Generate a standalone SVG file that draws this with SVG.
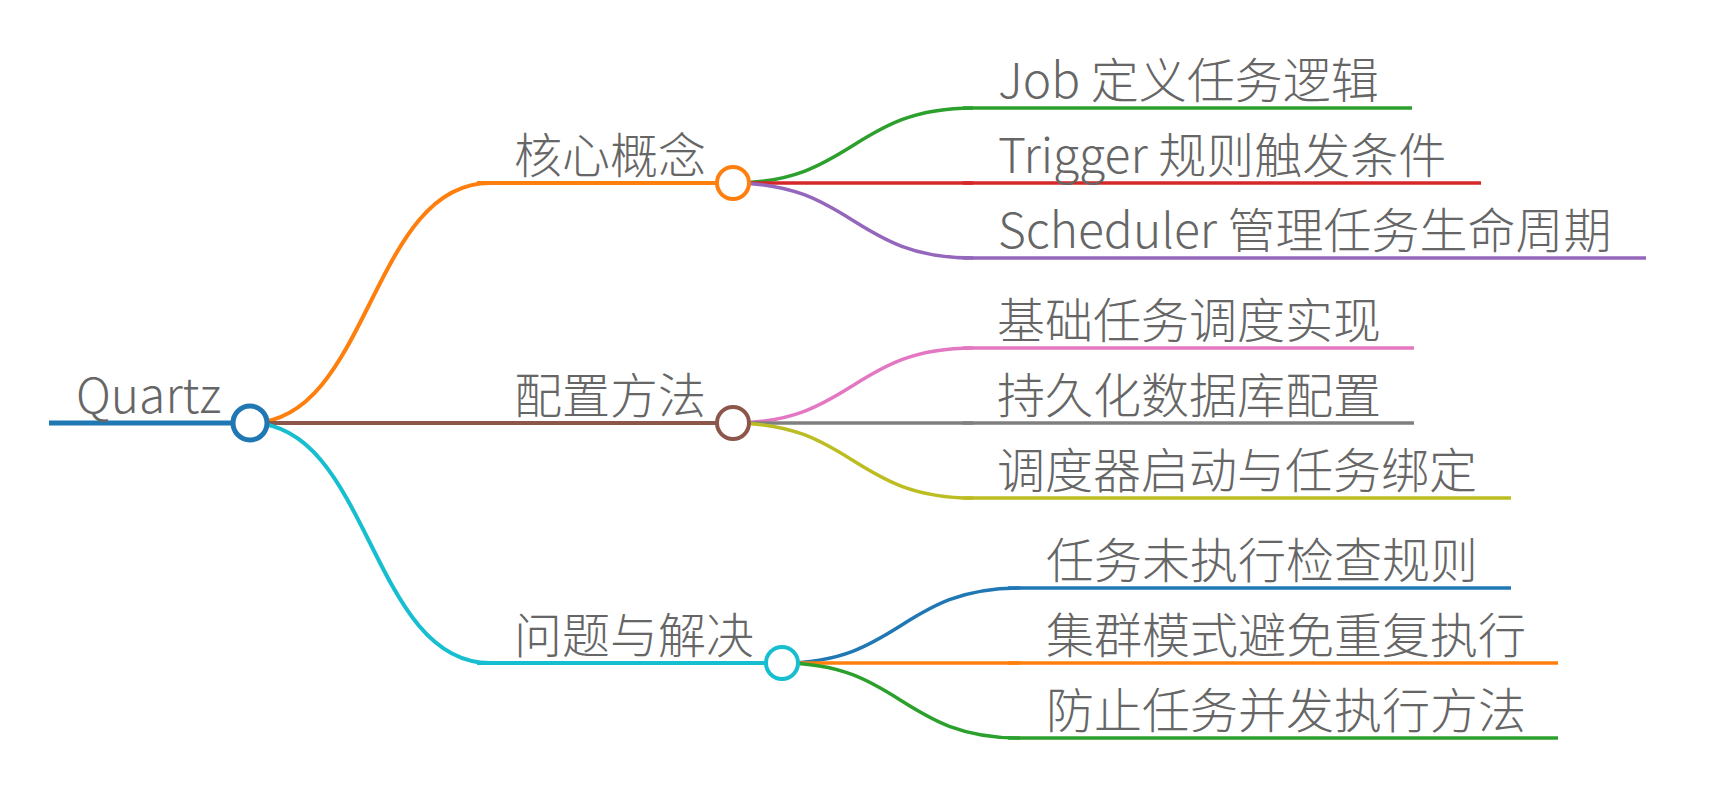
<svg xmlns="http://www.w3.org/2000/svg" width="1712" height="810" viewBox="0 0 1712 810">
<style>
text{font-family:"Noto Sans CJK SC","Noto Sans",sans-serif;font-size:48px;font-weight:300;fill:#666}
.l{fill:none;stroke-linecap:butt}
.c{fill:#fff}
.d0{stroke-width:5}
.d1{stroke-width:4}
.d2{stroke-width:3.5}
</style>
<rect width="1712" height="810" fill="#fff"/>
<g id="connectors" class="l">
<path class="d1" stroke="#ff7f0e" d="M250,423 C370,423 370,183 490,183"/>
<path class="d1" stroke="#8c564b" d="M250,423 L490,423"/>
<path class="d1" stroke="#17becf" d="M250,423 C370,423 370,663 490,663"/>
<path class="d2" stroke="#2ca02c" d="M733,183 C853,183 853,108 973,108"/>
<path class="d2" stroke="#d62728" d="M733,183 L973,183"/>
<path class="d2" stroke="#9467bd" d="M733,183 C853,183 853,258 973,258"/>
<path class="d2" stroke="#e377c2" d="M733,423 C853,423 853,348 973,348"/>
<path class="d2" stroke="#7f7f7f" d="M733,423 L973,423"/>
<path class="d2" stroke="#bcbd22" d="M733,423 C853,423 853,498 973,498"/>
<path class="d2" stroke="#1f77b4" d="M782,663 C901,663 901,588 1020,588"/>
<path class="d2" stroke="#ff7f0e" d="M782,663 L1020,663"/>
<path class="d2" stroke="#2ca02c" d="M782,663 C901,663 901,738 1020,738"/>
</g>
<g id="n-root">
<line class="l d0" stroke="#1f77b4" x1="49" y1="423" x2="234" y2="423"/>
<circle class="c d0" stroke="#1f77b4" cx="250" cy="423" r="17"/>
<text x="76" y="413">Quartz</text>
</g>
<g id="n-core">
<line class="l d1" stroke="#ff7f0e" x1="477" y1="183" x2="718" y2="183"/>
<circle class="c d1" stroke="#ff7f0e" cx="733" cy="183" r="16"/>
<text x="514" y="173">核心概念</text>
</g>
<g id="n-config">
<line class="l d1" stroke="#8c564b" x1="477" y1="423" x2="718" y2="423"/>
<circle class="c d1" stroke="#8c564b" cx="733" cy="423" r="16"/>
<text x="514" y="413">配置方法</text>
</g>
<g id="n-problem">
<line class="l d1" stroke="#17becf" x1="477" y1="663" x2="766" y2="663"/>
<circle class="c d1" stroke="#17becf" cx="782" cy="663" r="16"/>
<text x="514" y="653">问题与解决</text>
</g>
<g id="n-job">
<line class="l d2" stroke="#2ca02c" x1="963" y1="108" x2="1412" y2="108"/>
<text x="998" y="98">Job 定义任务逻辑</text>
</g>
<g id="n-trigger">
<line class="l d2" stroke="#d62728" x1="963" y1="183" x2="1481" y2="183"/>
<text x="998" y="173">Trigger 规则触发条件</text>
</g>
<g id="n-scheduler">
<line class="l d2" stroke="#9467bd" x1="963" y1="258" x2="1646" y2="258"/>
<text x="998" y="248">Scheduler 管理任务生命周期</text>
</g>
<g id="n-basic">
<line class="l d2" stroke="#e377c2" x1="963" y1="348" x2="1414" y2="348"/>
<text x="997" y="338">基础任务调度实现</text>
</g>
<g id="n-persist">
<line class="l d2" stroke="#7f7f7f" x1="963" y1="423" x2="1414" y2="423"/>
<text x="997" y="413">持久化数据库配置</text>
</g>
<g id="n-start">
<line class="l d2" stroke="#bcbd22" x1="963" y1="498" x2="1511" y2="498"/>
<text x="997" y="488">调度器启动与任务绑定</text>
</g>
<g id="n-misfire">
<line class="l d2" stroke="#1f77b4" x1="1008" y1="588" x2="1511" y2="588"/>
<text x="1046" y="578">任务未执行检查规则</text>
</g>
<g id="n-cluster">
<line class="l d2" stroke="#ff7f0e" x1="1008" y1="663" x2="1558" y2="663"/>
<text x="1046" y="653">集群模式避免重复执行</text>
</g>
<g id="n-concurrent">
<line class="l d2" stroke="#2ca02c" x1="1008" y1="738" x2="1558" y2="738"/>
<text x="1046" y="728">防止任务并发执行方法</text>
</g>
</svg>
